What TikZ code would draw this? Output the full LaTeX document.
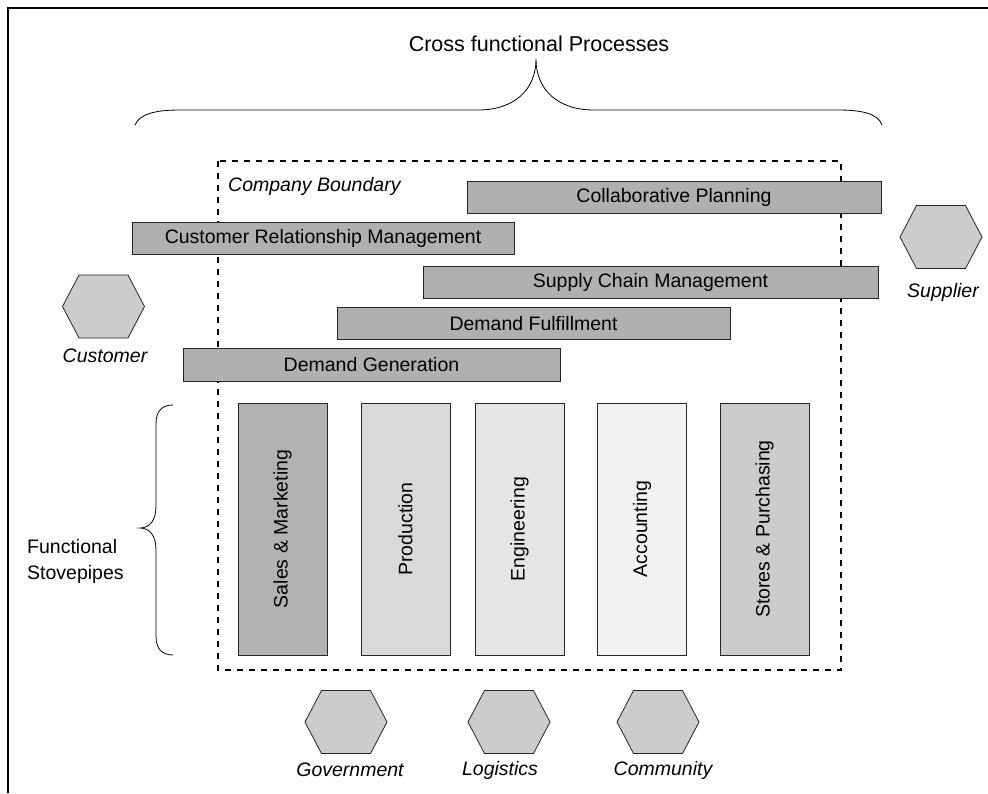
\documentclass[tikz,border=0pt]{standalone}
\usepackage{fontspec}
\setmainfont{Liberation Sans}
\begin{document}
\begin{tikzpicture}[x=1pt,y=-1pt,
  txt/.style={font=\fontsize{19.5}{23}\selectfont, inner sep=0pt},
  itxt/.style={txt, font=\fontsize{19.5}{23}\selectfont\itshape},
  procbar/.style={txt, draw=black!85, line width=1pt, fill=black!31, minimum height=32pt},
  column/.style={txt, draw=black!85, line width=1pt, minimum width=89pt, minimum height=252pt},
  brace/.style={draw=black, line width=0.8pt},
  hexa/.pic={\draw[draw=black!85, line width=0.8pt, fill=black!20]
      (-41,0) -- (-24.5,-31.5) -- (24.5,-31.5) -- (41,0) -- (24.5,31.5) -- (-24.5,31.5) -- cycle;}
]
\useasboundingbox (0,0) rectangle (988,793);
\fill[white] (0,0) rectangle (988,793);

% frame lines (top and left)
\draw[line width=1.6pt] (8,793) -- (8,8) -- (988,8);

% company boundary
\draw[dashed, dash pattern=on 6pt off 6pt, line width=1.3pt, draw=black]
  (218,161) rectangle (841,670);
\node[itxt, anchor=west] (cb) at (228,186) {Company Boundary};

% cross functional processes
\node[txt, font=\fontsize{21.5}{25}\selectfont] (cfp) at (539,44) {Cross functional Processes};
\draw[brace] (135,125) .. controls (140,113) and (158,110) .. (180,110) -- (478,110)
  .. controls (514,110) and (536,90) .. (536,59)
  .. controls (536,90) and (558,110) .. (594,110) -- (838,110)
  .. controls (860,110) and (878,113) .. (882,125);

% process bars
\node[procbar, minimum width=414pt] (collab) at (674,197.5) {Collaborative Planning};
\node[procbar, minimum width=382pt] (crm) at (323,238.5) {Customer Relationship Management};
\node[procbar, minimum width=455pt] (scm) at (650.5,282.5) {Supply Chain Management};
\node[procbar, minimum width=393pt] (dful) at (533.5,323.5) {Demand Fulfillment};
\node[procbar, minimum width=377pt, minimum height=33pt] (dgen) at (371.5,364.5) {Demand Generation};

% functional stovepipes
\node[column, fill=black!30] (sales) at (282.5,529) {\rotatebox{90}{Sales \& Marketing}};
\node[column, fill=black!15] (prod) at (405.5,529) {\rotatebox{90}{Production}};
\node[column, fill=black!10] (eng) at (519.5,529) {\rotatebox{90}{Engineering}};
\node[column, fill=black!5] (acc) at (642,529) {\rotatebox{90}{Accounting}};
\node[column, fill=black!20] (stores) at (764.5,529) {\rotatebox{90}{Stores \& Purchasing}};

\draw[brace] (173,405) .. controls (162,405) and (156,411) .. (156,424) -- (156,506)
  .. controls (156,520) and (150,528) .. (140,528)
  .. controls (150,528) and (156,536) .. (156,550) -- (156,636)
  .. controls (156,649) and (162,655) .. (173,655);
\node[txt, align=left, anchor=west] (fs) at (27,561) {Functional\\[3pt]Stovepipes};

% external parties
\pic at (103.5,306.5) {hexa};
\node[itxt] (cust) at (105,356) {Customer};
\pic at (941,237) {hexa};
\node[itxt] (supp) at (943,292) {Supplier};
\pic at (346,722) {hexa};
\node[itxt] (gov) at (350,770) {Government};
\pic at (509,722) {hexa};
\node[itxt] (log) at (500,770) {Logistics};
\pic at (658,722) {hexa};
\node[itxt] (comm) at (663,770) {Community};
\end{tikzpicture}
\end{document}
